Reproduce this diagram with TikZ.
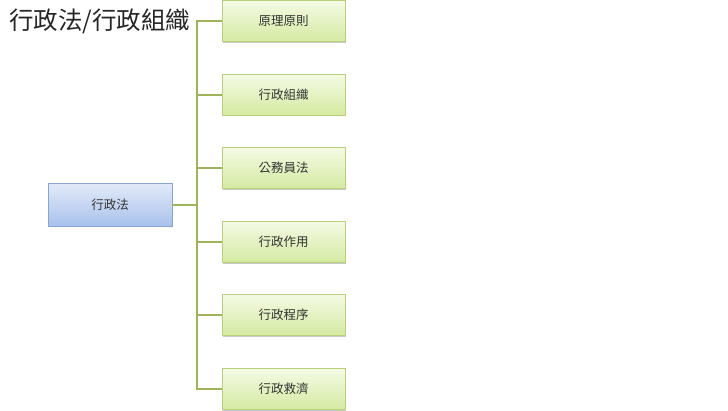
\documentclass[tikz,border=0pt]{standalone}
\usepackage{fontspec}
\setmainfont{Noto Sans CJK TC}
\usetikzlibrary{shadows}
\definecolor{greentop}{HTML}{F4FAE4}
\definecolor{greenbot}{HTML}{D5EAA2}
\definecolor{greenborder}{HTML}{B9D07A}
\definecolor{bluetop}{HTML}{E2EAF8}
\definecolor{bluebot}{HTML}{A9C2EC}
\definecolor{blueborder}{HTML}{87A5D2}
\definecolor{linkcol}{HTML}{9DB45A}
\definecolor{txtcol}{HTML}{333333}
\tikzset{
  childbox/.style={draw=greenborder, line width=0.8pt, top color=greentop, bottom color=greenbot,
    minimum width=123pt, minimum height=41pt, inner sep=0pt, font=\fontsize{12.5}{14}\selectfont,
    text=txtcol, drop shadow={shadow xshift=1.2pt, shadow yshift=-1.2pt, opacity=0.35, fill=black!60}},
  rootbox/.style={draw=blueborder, line width=0.8pt, top color=bluetop, bottom color=bluebot,
    minimum width=124pt, minimum height=43pt, inner sep=0pt, font=\fontsize{12.5}{14}\selectfont,
    text=txtcol, drop shadow={shadow xshift=1.2pt, shadow yshift=-1.2pt, opacity=0.35, fill=black!60}},
  link/.style={draw=linkcol, line width=2pt},
  titletext/.style={font=\fontsize{24.5}{28}\selectfont, text=black!85, inner sep=0pt, anchor=west}
}
\begin{document}
\begin{tikzpicture}[x=1pt,y=-1pt]
\useasboundingbox (0,0) rectangle (728,410);
\node[titletext] (title) at (9,21) {行政法/行政組織};
\node[rootbox] (root) at (110,204.5) {行政法};
\coordinate (trunk) at (196.5,204.5);
\node[childbox] (c1) at (283.5,21) {原理原則};
\node[childbox] (c2) at (283.5,94.5) {行政組織};
\node[childbox] (c3) at (283.5,168) {公務員法};
\node[childbox] (c4) at (283.5,242) {行政作用};
\node[childbox] (c5) at (283.5,315) {行政程序};
\node[childbox] (c6) at (283.5,389) {行政救濟};
\draw[link] (root.east) -- (trunk);
\foreach \c in {c1,c2,c3,c4,c5,c6}{
  \draw[link] (trunk) |- (\c.west);
}
\end{tikzpicture}
\end{document}
